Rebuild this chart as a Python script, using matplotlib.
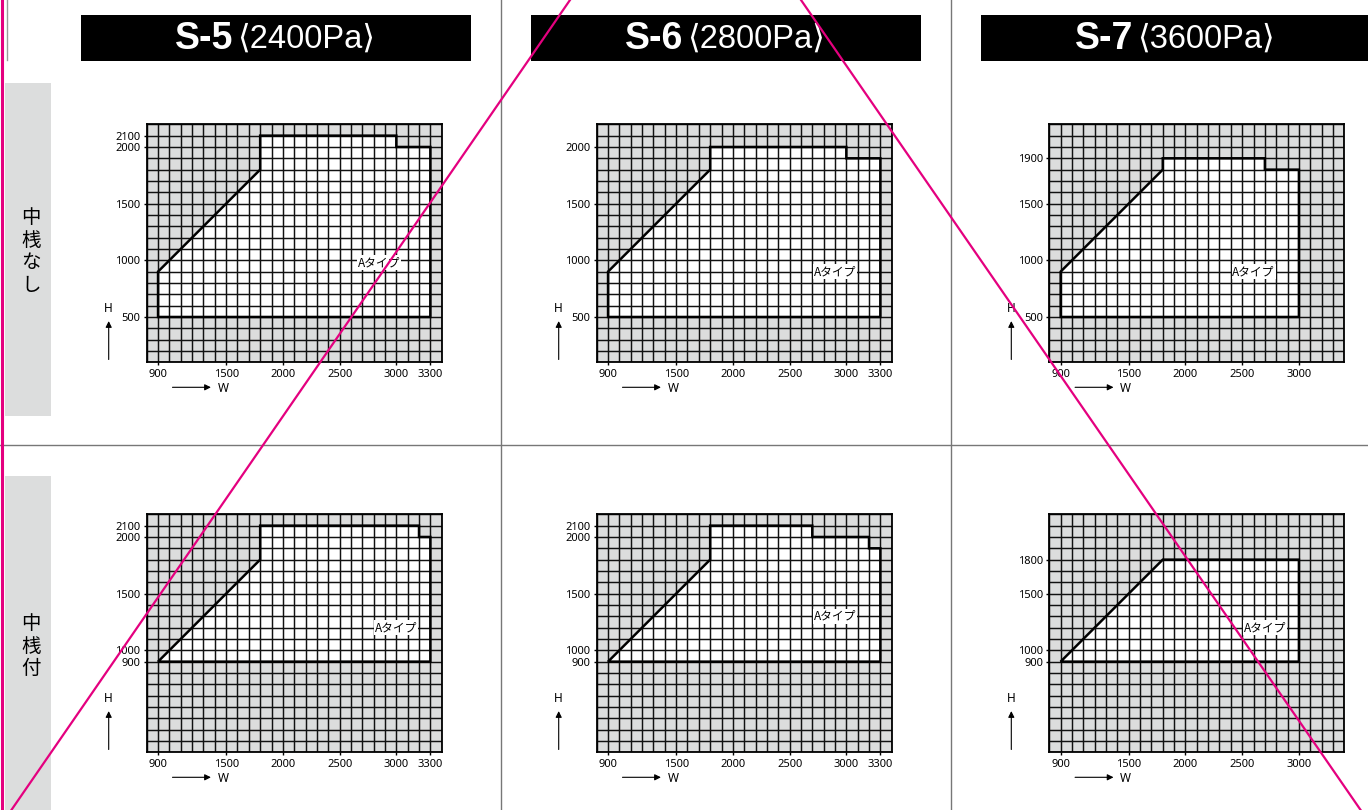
import numpy as np
import matplotlib
matplotlib.use("Agg")
import matplotlib.pyplot as plt
from matplotlib.lines import Line2D
from matplotlib.patches import Rectangle, Polygon

series = ["S-5", "S-6", "S-7"]
pressures = ["⟨2400Pa⟩", "⟨2800Pa⟩", "⟨3600Pa⟩"]
rows = ["中桟なし", "中桟付"]
label = "Aタイプ"

# outline of the usable range (W, H) for each panel
s5_nashi_w = [900, 900, 1800, 1800, 3000, 3000, 3300, 3300]
s5_nashi_h = [500, 900, 1800, 2100, 2100, 2000, 2000, 500]
s6_nashi_w = [900, 900, 1800, 1800, 3000, 3000, 3300, 3300]
s6_nashi_h = [500, 900, 1800, 2000, 2000, 1900, 1900, 500]
s7_nashi_w = [900, 900, 1800, 1800, 2700, 2700, 3000, 3000]
s7_nashi_h = [500, 900, 1800, 1900, 1900, 1800, 1800, 500]
s5_tsuki_w = [900, 1800, 1800, 3200, 3200, 3300, 3300]
s5_tsuki_h = [900, 1800, 2100, 2100, 2000, 2000, 900]
s6_tsuki_w = [900, 1800, 1800, 2700, 2700, 3200, 3200, 3300, 3300]
s6_tsuki_h = [900, 1800, 2100, 2100, 2000, 2000, 1900, 1900, 900]
s7_tsuki_w = [900, 1800, 3000, 3000]
s7_tsuki_h = [900, 1800, 1800, 900]

xticks_long = [900, 1500, 2000, 2500, 3000, 3300]
xticks_short = [900, 1500, 2000, 2500, 3000]
yticks_s5_nashi = [500, 1000, 1500, 2000, 2100]
yticks_s6_nashi = [500, 1000, 1500, 2000]
yticks_s7_nashi = [500, 1000, 1500, 1900]
yticks_s5_tsuki = [900, 1000, 1500, 2000, 2100]
yticks_s6_tsuki = [900, 1000, 1500, 2000, 2100]
yticks_s7_tsuki = [900, 1000, 1500, 1800]

label_pos = [[(2850, 980), (2900, 900), (2600, 900)],
             [(3000, 1200), (2900, 1300), (2700, 1200)]]

panels = [
    [(s5_nashi_w, s5_nashi_h, xticks_long, yticks_s5_nashi),
     (s6_nashi_w, s6_nashi_h, xticks_long, yticks_s6_nashi),
     (s7_nashi_w, s7_nashi_h, xticks_short, yticks_s7_nashi)],
    [(s5_tsuki_w, s5_tsuki_h, xticks_long, yticks_s5_tsuki),
     (s6_tsuki_w, s6_tsuki_h, xticks_long, yticks_s6_tsuki),
     (s7_tsuki_w, s7_tsuki_h, xticks_short, yticks_s7_tsuki)],
]

W, H = 1368, 810
fig = plt.figure(figsize=(W / 100, H / 100), dpi=100)
fig.patch.set_facecolor("white")

def fx(x):
    return x / W

def fy(y):
    return 1 - y / H

tick_font = ["Noto Sans", "DejaVu Sans"]
jp_font = ["Noto Sans CJK JP", "DejaVu Sans"]
head_font = ["Liberation Sans", "DejaVu Sans"]
grey_bg = "#dcdddd"
pink = "#e4007f"

# section dividers
fig.add_artist(Line2D([fx(501), fx(501)], [0, 1], transform=fig.transFigure, color="#777", lw=1))
fig.add_artist(Line2D([fx(951), fx(951)], [0, 1], transform=fig.transFigure, color="#777", lw=1))
fig.add_artist(Line2D([0, 1], [fy(445), fy(445)], transform=fig.transFigure, color="#777", lw=1))
fig.add_artist(Line2D([fx(7), fx(7)], [fy(0), fy(60)], transform=fig.transFigure, color="#999", lw=1))

# row labels on grey strips
for (top, bot), name in zip([(83, 416), (476, 812)], rows):
    fig.add_artist(Rectangle((fx(5), fy(bot)), fx(46), (bot - top) / H,
                             transform=fig.transFigure, color=grey_bg, lw=0))
    fig.text(fx(31), fy((top + bot) / 2 + 2), "\n".join(name), ha="center", va="center",
             fontsize=14, family=jp_font, linespacing=1.12)

# header bars
for i, (s, p) in enumerate(zip(series, pressures)):
    x0 = 81 + 450 * i
    fig.add_artist(Rectangle((fx(x0), fy(61)), fx(390), 46 / H,
                             transform=fig.transFigure, color="black", lw=0))
    fig.text(fx(x0 + 152), fy(39), s, ha="right", va="center", color="white",
             fontsize=27, fontweight="bold", family=head_font)
    fig.text(fx(x0 + 156), fy(39), p, ha="left", va="center", color="white",
             fontsize=23.5, family=head_font)

lefts = [146.7, 596.7, 1049.3]
tops = [124.3, 514.3]
aw, ah = 295, 238

for r in range(2):
    for c in range(3):
        wv, hv, xt, yt = panels[r][c]
        left, top = lefts[c], tops[r]
        bottom = top + ah
        ax = fig.add_axes([fx(left), fy(bottom), aw / W, ah / H])
        ax.set_xlim(800, 3400)
        ax.set_ylim(100, 2200)
        ax.set_facecolor(grey_bg)
        ax.add_patch(Polygon(list(zip(wv, hv)), closed=True, facecolor="white",
                             edgecolor="none", zorder=1))
        ax.vlines(np.arange(800, 3401, 100), 100, 2200, color="#111", lw=1.05, zorder=2)
        ax.hlines(np.arange(100, 2201, 100), 800, 3400, color="#111", lw=1.05, zorder=2)
        ax.add_patch(Polygon(list(zip(wv, hv)), closed=True, facecolor="none",
                             edgecolor="black", lw=1.8, joinstyle="miter", zorder=3))
        lx, ly = label_pos[r][c]
        ax.text(lx, ly, label, ha="center", va="center", fontsize=8.5, family=jp_font,
                zorder=4, bbox=dict(facecolor="white", edgecolor="none", pad=0.6))
        ax.set_xticks(xt)
        ax.set_yticks(yt)
        ax.tick_params(direction="out", length=2, width=1, pad=2.5, labelsize=8)
        for t in ax.get_xticklabels() + ax.get_yticklabels():
            t.set_family(tick_font)
        for sp in ax.spines.values():
            sp.set_linewidth(1.3)

        # H and W direction arrows
        ax.annotate("", xy=(fx(left - 38), fy(bottom - 44)), xycoords="figure fraction",
                    xytext=(fx(left - 38), fy(bottom)), textcoords="figure fraction",
                    arrowprops=dict(arrowstyle="-|>", lw=0.8, color="black", mutation_scale=9))
        fig.text(fx(left - 38), fy(bottom - 54), "H", ha="center", va="center",
                 fontsize=8.5, family=tick_font)
        ax.annotate("", xy=(fx(left + 67), fy(bottom + 25)), xycoords="figure fraction",
                    xytext=(fx(left + 23), fy(bottom + 25)), textcoords="figure fraction",
                    arrowprops=dict(arrowstyle="-|>", lw=0.8, color="black", mutation_scale=9))
        fig.text(fx(left + 71), fy(bottom + 26), "W", ha="left", va="center",
                 fontsize=8.5, family=tick_font)

# pink cross-out strokes over the sheet
for x0, y0, x1, y1 in [(570, 0, 10, 812), (801, 0, 1362, 812)]:
    fig.add_artist(Line2D([fx(x0), fx(x1)], [fy(y0), fy(y1)], transform=fig.transFigure,
                          color=pink, lw=1.6, zorder=20))
fig.add_artist(Line2D([fx(1.5), fx(1.5)], [0, 1], transform=fig.transFigure,
                      color=pink, lw=2.2, zorder=20))

fig.savefig("out.png", dpi=100)
